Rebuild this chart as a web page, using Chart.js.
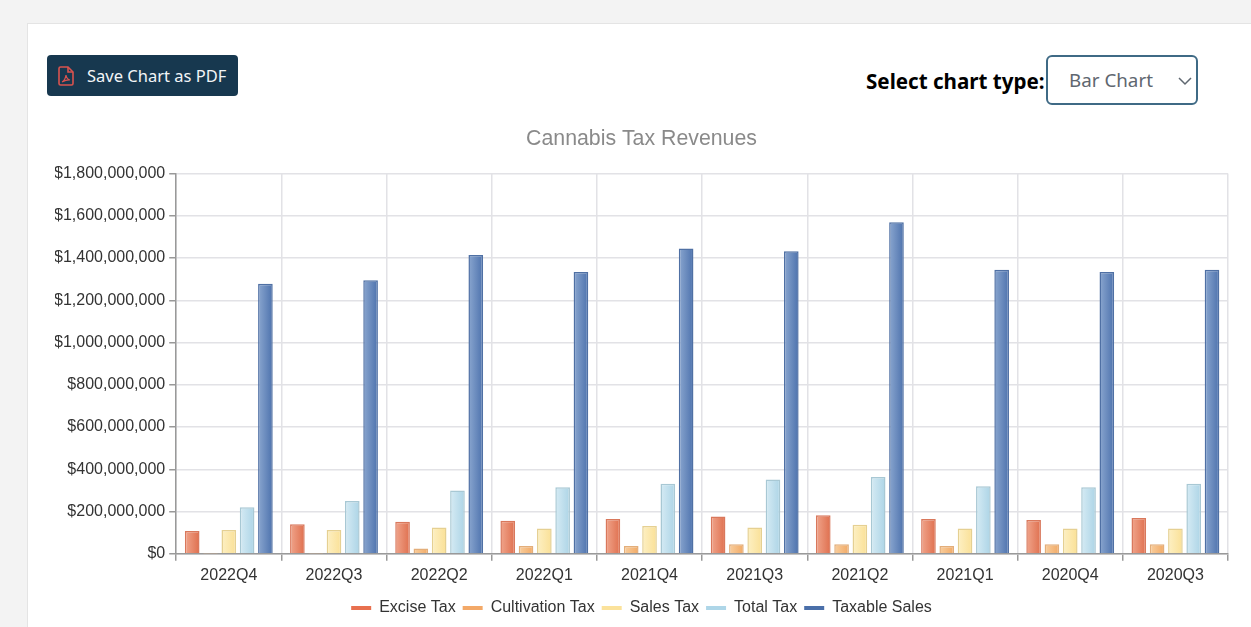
<!DOCTYPE html>
<html><head><meta charset="utf-8">
<script src="https://cdn.jsdelivr.net/npm/chart.js@4"></script>
<style>
html,body{margin:0;padding:0;width:1251px;height:627px;overflow:hidden;background:#f3f3f3}
#card{position:absolute;left:27px;top:23px;width:1240px;height:640px;background:#fff;border:1px solid #e4e4e4;box-sizing:border-box}
#btn{position:absolute;left:47px;top:55px;width:191px;height:41px;background:#17384f;border-radius:4px;color:#f2f5f7;font:16.5px "Noto Sans",sans-serif;line-height:41px;box-sizing:border-box;padding-left:40px;white-space:nowrap}
#btn svg{position:absolute;left:11px;top:11px}
#lab{position:absolute;left:866px;top:66px;font:bold 20.6px "Noto Sans",sans-serif;line-height:30px;color:#000;white-space:nowrap}
#sel{position:absolute;left:1046px;top:55px;width:152px;height:50px;border:2px solid #3f6a85;border-radius:6px;box-sizing:border-box;background:#fff;color:#5f6770;font:18.8px "Noto Sans",sans-serif;line-height:47px;padding-left:21px}
#sel svg{position:absolute;right:3px;top:19px}
#c{position:absolute;left:30px;top:120px}
</style></head><body>
<div id="card"></div>
<div id="btn"><svg width="16" height="20" viewBox="0 0 16 20" fill="none" stroke="#d9534f" stroke-width="1.6"><path d="M1 2.5a1.5 1.5 0 0 1 1.5-1.5H10l5 5v11.5a1.5 1.5 0 0 1-1.5 1.5h-11A1.5 1.5 0 0 1 1 17.5z"/><path d="M10 1v5h5"/><path d="M4 16c2-1 3.500-4 4-7 .5 3 2 4.500 4 5-2.500-.2-5 .5-8 2z" stroke-width="1.200"/></svg>Save Chart as PDF</div>
<div id="lab">Select chart type:</div>
<div id="sel">Bar Chart<svg width="16" height="10" viewBox="0 0 16 10" fill="none" stroke="#5f6770" stroke-width="1.500"><path d="M2 2l6 6 6-6"/></svg></div>
<canvas id="c" width="1222" height="507"></canvas>
<script>
const categories=["2022Q4","2022Q3","2022Q2","2022Q1","2021Q4","2021Q3","2021Q2","2021Q1","2020Q4","2020Q3"];
const exciseTax=[108e6,140e6,152e6,157e6,165e6,177e6,182e6,165e6,160e6,170e6];
const cultivationTax=[1e6,1e6,25e6,37e6,37e6,45e6,45e6,37e6,45e6,45e6];
const salesTax=[113e6,113e6,125e6,120e6,132e6,125e6,138e6,120e6,120e6,120e6];
const totalTax=[220e6,250e6,300e6,315e6,332e6,352e6,363e6,320e6,315e6,332e6];
const taxableSales=[1278e6,1295e6,1415e6,1334e6,1445e6,1432e6,1570e6,1345e6,1334e6,1345e6];
const tickStep=200000000;
const tickMax=1800000000;
const seriesStyles=[
 {name:"Excise Tax",data:exciseTax,line:"#e8704f",edge:"#d9785c",a:"#f0a58c",b:"#df6f4e"},
 {name:"Cultivation Tax",data:cultivationTax,line:"#f3a968",edge:"#e3ae7a",a:"#f9cf9f",b:"#f1a965"},
 {name:"Sales Tax",data:salesTax,line:"#fbe29b",edge:"#e5d092",a:"#fdf0c4",b:"#fae096"},
 {name:"Total Tax",data:totalTax,line:"#aed6e8",edge:"#a8c8d4",a:"#d6ebf4",b:"#acd4e6"},
 {name:"Taxable Sales",data:taxableSales,line:"#4a6fa9",edge:"#4f70a4",a:"#8aa6cf",b:"#4d72ad"}
];
const hGradient={id:"hGradient",beforeDatasetDraw(chart,args){
 const st=seriesStyles[args.index];const meta=args.meta;const ctx=chart.ctx;
 meta.data.forEach(el=>{
  const w=el.width;const g=ctx.createLinearGradient(el.x-w/2,0,el.x+w/2,0);
  g.addColorStop(0,st.a);g.addColorStop(1,st.b);
  el.options=Object.assign({},el.options,{backgroundColor:g,borderColor:st.edge,borderWidth:1.5});
 });
}};
new Chart(document.getElementById("c"),{
 type:"bar",
 data:{labels:categories,datasets:seriesStyles.map(s=>({label:s.name,data:s.data,backgroundColor:s.line,borderColor:s.edge,borderWidth:1.5,categoryPercentage:.87,barPercentage:.8}))},
 plugins:[hGradient],
 options:{
  responsive:false,maintainAspectRatio:false,animation:false,devicePixelRatio:1,
  layout:{padding:{left:25,right:24,top:0,bottom:1}},
  plugins:{
   title:{display:true,text:"Cannabis Tax Revenues",color:"#8a8a8a",font:{family:"Liberation Sans",size:21.3,weight:"normal"},padding:{top:6,bottom:22}},
   legend:{position:"bottom",labels:{color:"#333",font:{family:"Liberation Sans",size:16},usePointStyle:true,pointStyle:"line",pointStyleWidth:20,boxWidth:20,boxHeight:10,padding:7,
    generateLabels(){return seriesStyles.map((s,i)=>({text:s.name,fontColor:"#333",strokeStyle:s.line,fillStyle:s.line,lineWidth:4,pointStyle:"line",datasetIndex:i}));}}},
   tooltip:{enabled:false}
  },
  scales:{
   x:{afterFit(s){s.height+=3;},grid:{color:"#e2e2e6",lineWidth:1.5,tickLength:7,tickColor:"#999"},border:{color:"#999",width:1.5},ticks:{color:"#333",font:{family:"Liberation Sans",size:16},maxRotation:0,padding:5}},
   y:{afterFit(s){s.width-=5;},min:0,max:tickMax,grid:{color:"#e2e2e6",lineWidth:1.5,tickLength:7,tickColor:"#999"},border:{color:"#999",width:1.5},
    ticks:{stepSize:tickStep,color:"#333",padding:4,font:{family:"Liberation Sans",size:16},callback:v=>"$"+Number(v).toLocaleString("en-US")}}
  }
 }
});
</script>
</body></html>
